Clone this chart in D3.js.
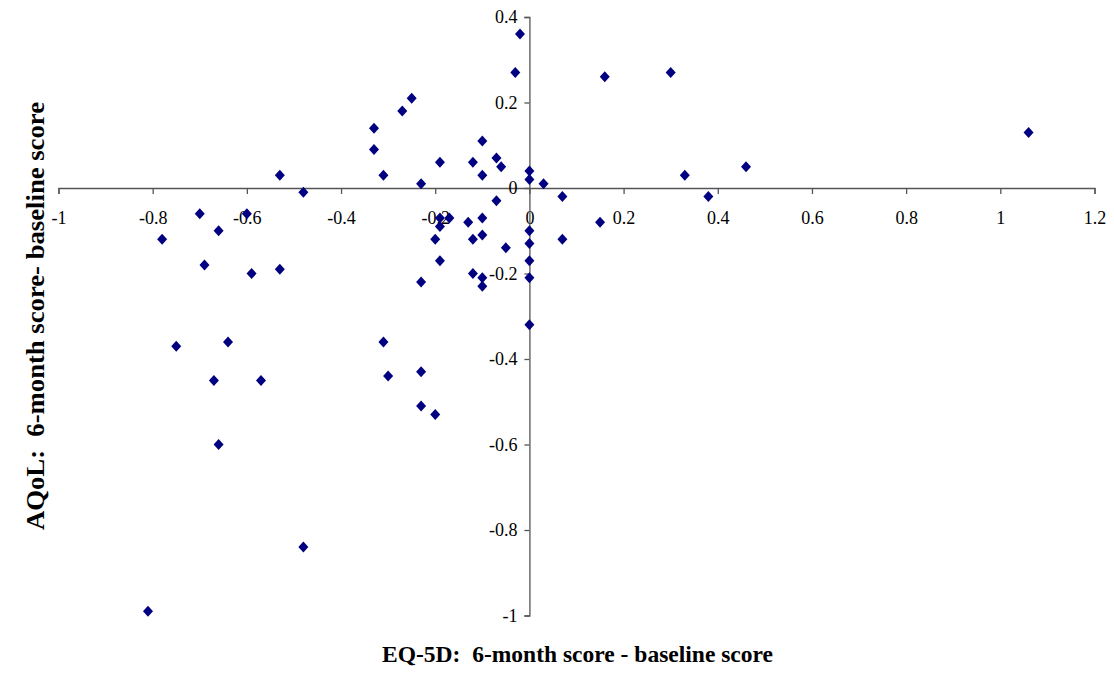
<!DOCTYPE html>
<html><head><meta charset="utf-8">
<script src="https://cdn.jsdelivr.net/npm/d3@7"></script>
<style>body{margin:0;background:#fff}</style>
</head><body>
<script>
const xTicks = [-1,-0.8,-0.6,-0.4,-0.2,0,0.2,0.4,0.6,0.8,1,1.2];
const yTicks = [-1,-0.8,-0.6,-0.4,-0.2,0,0.2,0.4];
const xTitle = "EQ-5D:  6-month score - baseline score";
const yTitle = "AQoL:  6-month score- baseline score";
const eq5d = [
 -0.02,-0.03,-0.25,-0.27,-0.33,-0.33,-0.31,-0.53,-0.48,-0.23,-0.19,-0.12,-0.10,-0.10,-0.07,-0.06,
 0,0,0.03,0.16,0.30,0.33,0.46,0.38,1.06,0.07,0.07,0.15,
 -0.07,-0.19,-0.17,-0.19,-0.20,-0.19,-0.13,-0.12,-0.10,-0.10,-0.05,-0.12,-0.10,-0.10,-0.23,
 0,0,0,0,0,
 -0.70,-0.60,-0.78,-0.66,-0.69,-0.59,-0.53,
 -0.75,-0.64,-0.67,-0.57,-0.66,-0.48,-0.81,
 -0.31,-0.30,-0.23,-0.23,-0.20
];
const aqol = [
 0.36,0.27,0.21,0.18,0.14,0.09,0.03,0.03,-0.01,0.01,0.06,0.06,0.11,0.03,0.07,0.05,
 0.04,0.02,0.01,0.26,0.27,0.03,0.05,-0.02,0.13,-0.02,-0.12,-0.08,
 -0.03,-0.07,-0.07,-0.09,-0.12,-0.17,-0.08,-0.12,-0.07,-0.11,-0.14,-0.20,-0.21,-0.23,-0.22,
 -0.10,-0.13,-0.17,-0.21,-0.32,
 -0.06,-0.06,-0.12,-0.10,-0.18,-0.20,-0.19,
 -0.37,-0.36,-0.45,-0.45,-0.60,-0.84,-0.99,
 -0.36,-0.44,-0.43,-0.51,-0.53
];

const W = 1114, H = 673;
const FONT = "'Liberation Serif','Times New Roman',serif";
const svg = d3.select("body").append("svg").attr("width", W).attr("height", H)
  .style("font-family", FONT);

const x = d3.scaleLinear().domain([-1, 1.2]).range([58.5, 1094.5]);
const y = d3.scaleLinear().domain([-1, 0.4]).range([615.5, 17]);

const fmt = d => (Math.abs(d) < 1e-9 ? "0" : String(+d.toFixed(1)));

const xAxis = d3.axisBottom(x).tickValues(xTicks).tickFormat(fmt).tickSize(6).tickPadding(17);
const gx = svg.append("g").attr("transform", `translate(0,${y(0)})`).call(xAxis);
gx.select(".domain").attr("stroke", "#555").attr("stroke-width", 1.3);
gx.selectAll(".tick line").attr("stroke", "#555").attr("stroke-width", 1.3);
gx.selectAll(".tick text").attr("fill", "#000").style("font-size", "18px").style("font-family", FONT);

const yAxis = d3.axisLeft(y).tickValues(yTicks).tickFormat(fmt).tickSize(5).tickPadding(7);
const gy = svg.append("g").attr("transform", `translate(${x(0)},0)`).call(yAxis);
gy.select(".domain").attr("stroke", "#555").attr("stroke-width", 1.3);
gy.selectAll(".tick line").attr("stroke", "#555").attr("stroke-width", 1.3);
gy.selectAll(".tick text").attr("fill", "#000").style("font-size", "18px").style("font-family", FONT);

const diamond = "M0,-5.5L5,0L0,5.5L-5,0Z";
svg.append("g").selectAll("path").data(eq5d.map((v,i)=>[v, aqol[i]])).join("path")
  .attr("d", diamond)
  .attr("transform", d => `translate(${x(d[0])},${y(d[1])})`)
  .attr("fill", "#000080");

svg.append("text").attr("x", 577.5).attr("y", 662).attr("text-anchor", "middle")
  .style("font-size", "23px").style("font-weight", "bold").style("white-space", "pre")
  .attr("textLength", 391).attr("lengthAdjust", "spacingAndGlyphs").text(xTitle);
svg.append("text").attr("transform", "translate(44,316) rotate(-90)").attr("text-anchor", "middle")
  .style("font-size", "25px").style("font-weight", "bold").style("white-space", "pre")
  .attr("textLength", 428).attr("lengthAdjust", "spacingAndGlyphs").text(yTitle);
</script>
</body></html>
